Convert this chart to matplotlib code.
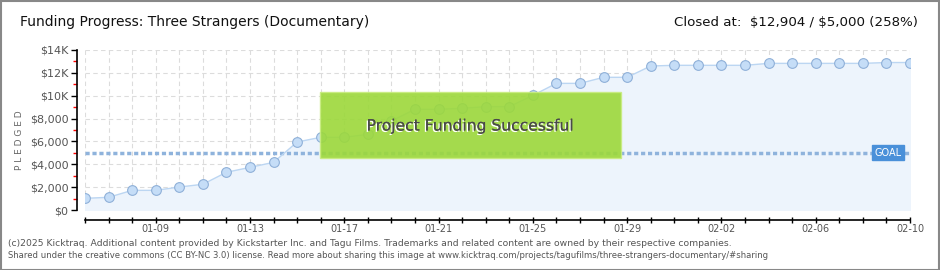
import matplotlib
matplotlib.use("Agg")
import matplotlib.pyplot as plt
from matplotlib.patches import Rectangle
import matplotlib.patheffects as pe

# daily pledged totals, 01-06 .. 02-10
dates = ['01-06', '01-07', '01-08', '01-09', '01-10', '01-11', '01-12', '01-13', '01-14',
         '01-15', '01-16', '01-17', '01-18', '01-19', '01-20', '01-21', '01-22', '01-23',
         '01-24', '01-25', '01-26', '01-27', '01-28', '01-29', '01-30', '01-31', '02-01',
         '02-02', '02-03', '02-04', '02-05', '02-06', '02-07', '02-08', '02-09', '02-10']
pledged = [1020, 1110, 1720, 1720, 2010, 2250, 3300, 3730, 4170, 5950, 6360, 6360,
           6620, 7790, 8810, 8810, 8900, 9040, 9040, 10030, 11080, 11080, 11610, 11610,
           12600, 12660, 12660, 12660, 12660, 12830, 12830, 12830, 12830, 12830, 12904, 12904]
goal = 5000
ytick_vals = [0, 2000, 4000, 6000, 8000, 10000, 12000, 14000]
ytick_labels = ['$0', '$2,000', '$4,000', '$6,000', '$8,000', '$10K', '$12K', '$14K']

plt.rcParams['font.family'] = ['DejaVu Sans']

W, H = 940, 270
fig = plt.figure(figsize=(W / 100, H / 100), dpi=100)
ax = fig.add_axes([85 / W, (H - 210) / H, 825 / W, 160 / H])

x = list(range(len(dates)))
ax.fill_between(x, pledged, 0, color='#edf4fc', zorder=1)
ax.plot(x, pledged, color='#bcd6f2', lw=1, zorder=3)
ax.plot(x, pledged, 'o', ms=7, mfc='#c5ddf7', mec='#8fb0d8', mew=0.8, zorder=4)
ax.axhline(goal, color='#8fb3dc', lw=2.5, ls=(0, (1.2, 0.8)), zorder=2)

ax.set_xlim(0, len(dates) - 1)
ax.set_ylim(0, 14000)
ax.set_xticks(x)
ax.set_xticklabels([d if i % 4 == 3 else '' for i, d in enumerate(dates)])
ax.set_yticks(ytick_vals)
ax.set_yticklabels(ytick_labels)
ax.set_yticks(range(1000, 14000, 2000), minor=True)
ax.grid(True, color='#dcdcdc', ls=(0, (4, 3)), lw=0.8)
ax.set_axisbelow(True)

for s in ['top', 'right']:
    ax.spines[s].set_visible(False)
ax.spines['left'].set_position(('outward', 6))
ax.spines['bottom'].set_position(('outward', 7))
ax.spines['left'].set_linewidth(1.2)
ax.spines['bottom'].set_linewidth(1.2)
ax.tick_params(axis='y', which='major', length=4, width=1, colors='black', labelcolor='#555555', labelsize=8, pad=2)
ax.tick_params(axis='y', which='minor', length=3, width=1, color='red')
ax.tick_params(axis='x', length=5, width=1, direction='inout', labelcolor='#555555', labelsize=7, pad=0.5)

fig.text(20 / W, 130 / H, 'P L E D G E D', rotation=90, ha='center', va='center', fontsize=6.5, color='#666666')

# success banner
ax.add_patch(Rectangle((235 / 825, 52 / 160), 301 / 825, 66 / 160, transform=ax.transAxes,
                       facecolor='#9cd83a', edgecolor='#c8ec80', lw=1, alpha=0.9, zorder=5))
ax.text((235 + 150) / 825, 84 / 160, 'Project Funding Successful', transform=ax.transAxes,
        ha='center', va='center', fontsize=11.2, color='#4a4a4a', zorder=6,
        path_effects=[pe.withSimplePatchShadow(offset=(-1, -1), shadow_rgbFace='white', alpha=1), pe.Normal()])

# goal tag
ax.text(1 - 22 / 825, goal, 'GOAL', transform=ax.get_yaxis_transform(), ha='center', va='center',
        fontsize=7, color='white', zorder=6,
        bbox=dict(boxstyle='square,pad=0.25', facecolor='#4a90d9', edgecolor='#4a90d9'))

fig.text(20 / W, 1 - 22 / H, 'Funding Progress: Three Strangers (Documentary)', fontsize=10,
         va='center', ha='left', color='#111111')
fig.text(918 / W, 1 - 22 / H, r'Closed at:  \$12,904 / \$5,000 (258%)', fontsize=9.6,
         va='center', ha='right', color='#111111')
fig.text(8 / W, 1 - 243 / H, '(c)2025 Kicktraq. Additional content provided by Kickstarter Inc. and Tagu Films. '
         'Trademarks and related content are owned by their respective companies.',
         fontsize=6.7, color='#555555', va='center')
fig.text(8 / W, 1 - 256 / H, 'Shared under the creative commons (CC BY-NC 3.0) license. Read more about sharing '
         'this image at www.kicktraq.com/projects/tagufilms/three-strangers-documentary/#sharing',
         fontsize=6.1, color='#555555', va='center')

fig.add_artist(Rectangle((0.5 / W, 0.5 / H), 1 - 1.5 / W, 1 - 1.5 / H, transform=fig.transFigure,
                         fill=False, edgecolor='#888888', lw=1.5))

fig.savefig('out.png', dpi=100)
